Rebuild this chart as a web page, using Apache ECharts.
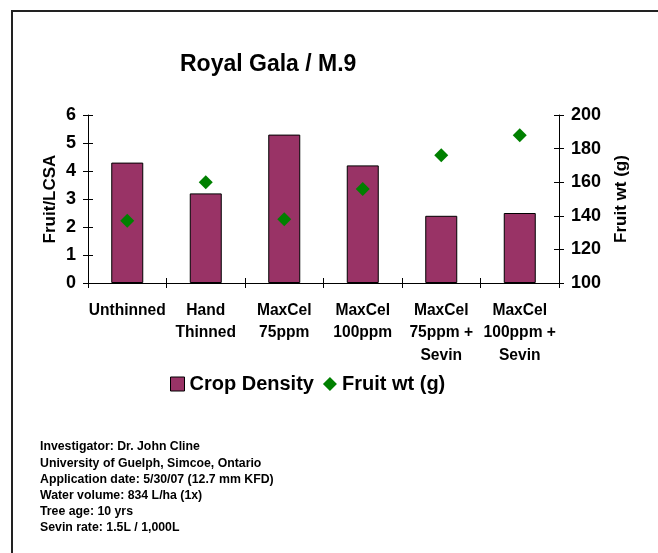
<!DOCTYPE html>
<html>
<head>
<meta charset="utf-8">
<script src="https://cdn.jsdelivr.net/npm/echarts@6/dist/echarts.min.js"></script>
<style>html,body{margin:0;padding:0;background:#fff}#c{width:658px;height:553px}</style>
</head>
<body>
<div id="c"></div>
<script>
var categories = ['Unthinned', 'Hand\nThinned', 'MaxCel\n75ppm', 'MaxCel\n100ppm', 'MaxCel\n75ppm +\nSevin', 'MaxCel\n100ppm +\nSevin'];
var cropDensity = [4.3, 3.2, 5.3, 4.2, 2.4, 2.5];
var fruitWt = [137, 160, 138, 156, 176, 188];
var leftAxis = { min: 0, max: 6, interval: 1 };
var rightAxis = { min: 100, max: 200, interval: 20 };
var footerLines = [
  'Investigator: Dr. John Cline',
  'University of Guelph, Simcoe, Ontario',
  'Application date: 5/30/07 (12.7 mm KFD)',
  'Water volume: 834 L/ha (1x)',
  'Tree age: 10 yrs',
  'Sevin rate: 1.5L / 1,000L'
];

var FF = '"Liberation Sans", Arial, sans-serif';
var chart = echarts.init(document.getElementById('c'), null, { renderer: 'canvas' });
var lineStyle = { color: '#000', width: 1 };

function yAx(cfg, pos, main) {
  return {
    type: 'value', position: pos, min: cfg.min, max: cfg.max, interval: cfg.interval,
    name: main ? (pos === 'left' ? 'Fruit/LCSA' : 'Fruit wt (g)') : '',
    nameLocation: 'middle', nameGap: pos === 'left' ? 29 : 54, nameRotate: 90,
    nameMoveOverlap: false,
    nameTextStyle: { fontFamily: FF, fontWeight: 'bold', fontSize: 17, color: '#000' },
    axisLine: { show: main, lineStyle: lineStyle },
    axisTick: { show: true, inside: !main, length: 5, lineStyle: lineStyle },
    axisLabel: { show: main, margin: 12, fontFamily: FF, fontWeight: 'bold', fontSize: 18, color: '#000' },
    splitLine: { show: false }
  };
}

chart.setOption({
  animation: false,
  backgroundColor: '#fff',
  title: {
    text: 'Royal Gala / M.9', left: 180, top: 53, padding: 0,
    textStyle: { fontFamily: FF, fontWeight: 'bold', fontSize: 23, color: '#000' }
  },
  legend: {
    left: 170, top: 374, itemWidth: 14, itemHeight: 14, itemGap: 9, padding: 0,
    textStyle: { fontFamily: FF, fontWeight: 'bold', fontSize: 20, color: '#000' },
    data: [
      { name: 'Crop Density', icon: 'rect', itemStyle: { color: '#993366', borderColor: '#000', borderWidth: 1 } },
      { name: 'Fruit wt (g)', icon: 'diamond', itemStyle: { color: '#008000', opacity: 1 } }
    ]
  },
  grid: { left: 88, right: 99, top: 115, bottom: 270, containLabel: false },
  xAxis: [
    {
      type: 'category', data: categories, position: 'bottom',
      axisLine: { show: true, lineStyle: lineStyle },
      axisTick: { show: true, length: 5, alignWithLabel: false, lineStyle: lineStyle },
      axisLabel: { margin: 16, interval: 0, fontFamily: FF, fontWeight: 'bold', fontSize: 15.6, lineHeight: 22.7, color: '#000' }
    },
    {
      type: 'category', data: categories, position: 'bottom',
      axisLine: { show: false },
      axisTick: { show: true, inside: true, length: 5, lineStyle: lineStyle },
      axisLabel: { show: false }
    }
  ],
  yAxis: [
    yAx(leftAxis, 'left', true),
    yAx(rightAxis, 'right', true),
    yAx(leftAxis, 'left', false),
    yAx(rightAxis, 'right', false)
  ],
  series: [
    {
      name: 'Crop Density', type: 'bar', data: cropDensity, xAxisIndex: 0, yAxisIndex: 0, barWidth: 32,
      itemStyle: { color: '#993366', borderColor: '#000', borderWidth: 1 }
    },
    {
      name: 'Fruit wt (g)', type: 'scatter', data: fruitWt, xAxisIndex: 0, yAxisIndex: 1,
      symbol: 'diamond', symbolSize: 14, itemStyle: { color: '#008000', opacity: 1 }, z: 5
    }
  ],
  graphic: [
    {
      type: 'rect', shape: { x: 12, y: 11, width: 800, height: 700 },
      style: { fill: 'none', stroke: '#222', lineWidth: 2 }, silent: true
    },
    {
      type: 'text', left: 40, top: 439,
      style: { text: footerLines.join('\n'), fontFamily: FF, fontWeight: 'bold', fontSize: 12.3, lineHeight: 16.2, fill: '#000' }
    }
  ]
});
</script>
</body>
</html>
